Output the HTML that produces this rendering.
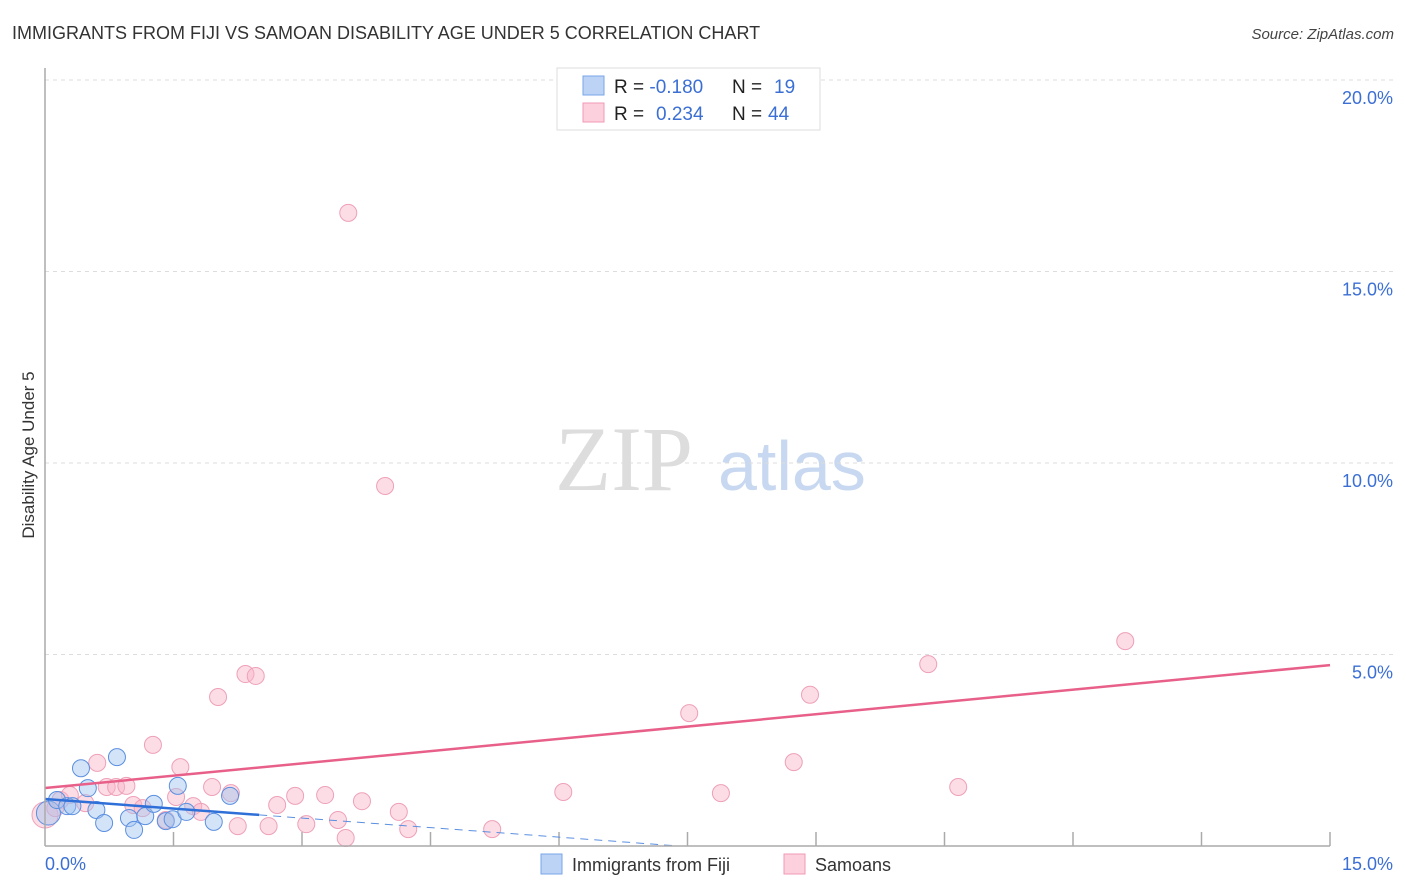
<!DOCTYPE html><html><head><meta charset="utf-8"><style>
body{margin:0;background:#fff;font-family:"Liberation Sans",sans-serif}
svg{display:block}
</style></head><body>
<svg width="1406" height="892" id="c">
<text x="12" y="39" font-size="18" fill="#333">IMMIGRANTS FROM FIJI VS SAMOAN DISABILITY AGE UNDER 5 CORRELATION CHART</text>
<text x="1394" y="39" font-size="15" font-style="italic" fill="#444" text-anchor="end">Source: ZipAtlas.com</text>
<text x="0" y="0" transform="translate(34,455) rotate(-90)" font-size="17" fill="#333" text-anchor="middle">Disability Age Under 5</text>
<text x="555" y="490" font-size="92" font-family="Liberation Serif,serif" fill="#ddd">ZIP</text>
<text x="718" y="490" font-size="70" fill="#c8d8f0">atlas</text>
<g id="grid"></g><g id="pts"></g><g id="lines"></g>
<line x1="45" y1="68" x2="45" y2="846" stroke="#aaa" stroke-width="1.5"/>
<line x1="45" y1="846" x2="1330" y2="846" stroke="#aaa" stroke-width="1.5"/>
<text x="45" y="870" font-size="18" fill="#3b6fd4">0.0%</text>
<text x="1393" y="870" font-size="18" fill="#3b6fd4" text-anchor="end">15.0%</text>
<g>
<rect x="557" y="68" width="263" height="62" fill="#fff" stroke="#ddd"/>
<rect x="583" y="76" width="21" height="19" fill="#bcd3f5" stroke="#7aa6e8"/>
<rect x="583" y="103" width="21" height="19" fill="#fcd0dc" stroke="#f09ab4"/>
<text x="614" y="93" font-size="19" fill="#222">R = <tspan fill="#3b6fd4">-0.180</tspan><tspan x="732">N =</tspan><tspan x="774" fill="#3b6fd4">19</tspan></text>
<text x="614" y="120" font-size="19" fill="#222">R = <tspan x="656" fill="#3b6fd4">0.234</tspan><tspan x="732">N =</tspan><tspan x="768" fill="#3b6fd4">44</tspan></text>
</g>
<g>
<rect x="541" y="854" width="21" height="20" fill="#bcd3f5" stroke="#7aa6e8"/>
<text x="572" y="871" font-size="18" fill="#333">Immigrants from Fiji</text>
<rect x="784" y="854" width="21" height="20" fill="#fcd0dc" stroke="#f09ab4"/>
<text x="815" y="871" font-size="18" fill="#333">Samoans</text>
</g>
</svg>
<script>
const yTicks=[5,10,15,20];
const yTickLabels=["5.0%","10.0%","15.0%","20.0%"];
const xTicks=[1.5,3,4.5,6,7.5,9,10.5,12,13.5,15];
const fijiX=[0.04,0.14,0.26,0.32,0.42,0.5,0.6,0.69,0.84,0.98,1.04,1.17,1.27,1.41,1.49,1.55,1.65,1.97,2.16];
const fijiY=[0.86,1.2,1.04,1.04,2.03,1.51,0.94,0.6,2.32,0.73,0.42,0.78,1.1,0.65,0.7,1.57,0.89,0.63,1.31];
const samX=[3.54,3.97,12.61,10.31,8.93,7.52,2.34,2.46,2.02,1.26,0.61,1.58,8.74,10.66,7.89,6.05,0.72,0.83,0.95,1.95,2.92,3.27,3.7,2.17,1.53,1.03,1.14,1.73,2.71,1.82,4.13,0.18,0.29,0.47,0.0,2.25,2.61,3.05,3.42,4.24,5.22,3.51,1.41,0.12];
const samY=[16.53,9.4,5.35,4.75,3.95,3.47,4.49,4.44,3.89,2.64,2.17,2.06,2.19,1.54,1.38,1.41,1.54,1.54,1.57,1.54,1.31,1.33,1.17,1.38,1.28,1.07,0.99,1.04,1.07,0.89,0.89,1.2,1.33,1.12,0.81,0.52,0.52,0.57,0.68,0.44,0.44,0.21,0.68,0.99];
const fijiTrend=[1.227,-0.166];
const samTrend=[1.514,0.214];
const NS="http://www.w3.org/2000/svg";
const X=v=>45+v/15*1285, Y=v=>846-v*38.3;
function mk(t,a,p){const e=document.createElementNS(NS,t);for(const k in a)e.setAttribute(k,a[k]);document.getElementById(p).appendChild(e);return e;}
yTicks.forEach((t,i)=>{
 const l=mk('line',{x1:45,x2:1395,y1:Y(t),y2:Y(t),stroke:'#ddd','stroke-dasharray':'4 4'},'grid');
 
 
 const tx=mk('text',{x:1393,y:Y(t)+24,'font-size':18,fill:'#3b6fd4','text-anchor':'end'},'grid');
 tx.textContent=yTickLabels[i];
 
 
});
xTicks.forEach(t=>{
 const l=mk('line',{x1:X(t),x2:X(t),y1:832,y2:846,stroke:'#aaa','stroke-width':1.5},'grid');
 
 
});
samX.forEach((x,i)=>{
 const c=mk('circle',{cx:X(x),cy:Y(samY[i]),r:i==34?13:8.5,fill:'rgba(248,180,200,0.45)',stroke:'#eea0b8','stroke-width':1},'pts');
 
 
});
fijiX.forEach((x,i)=>{
 const c=mk('circle',{cx:X(x),cy:Y(fijiY[i]),r:i==0?12:8.5,fill:'rgba(160,195,240,0.45)',stroke:'#5b8fe0','stroke-width':1},'pts');
 
 
});
const fEnd=fijiTrend[0]/-fijiTrend[1];
let l1=mk('line',{x1:X(0),y1:Y(fijiTrend[0]),x2:X(2.5),y2:Y(fijiTrend[0]+fijiTrend[1]*2.5),stroke:'#2f6fd8','stroke-width':2.5},'lines');


let l2=mk('line',{x1:X(2.5),y1:Y(fijiTrend[0]+fijiTrend[1]*2.5),x2:X(fEnd),y2:Y(0),stroke:'#5b8fe0','stroke-width':1,'stroke-dasharray':'8 6'},'lines');


let l3=mk('line',{x1:X(0),y1:Y(samTrend[0]),x2:X(15),y2:Y(samTrend[0]+samTrend[1]*15),stroke:'#e8608a','stroke-width':2.5},'lines');


</script>
</body></html>
